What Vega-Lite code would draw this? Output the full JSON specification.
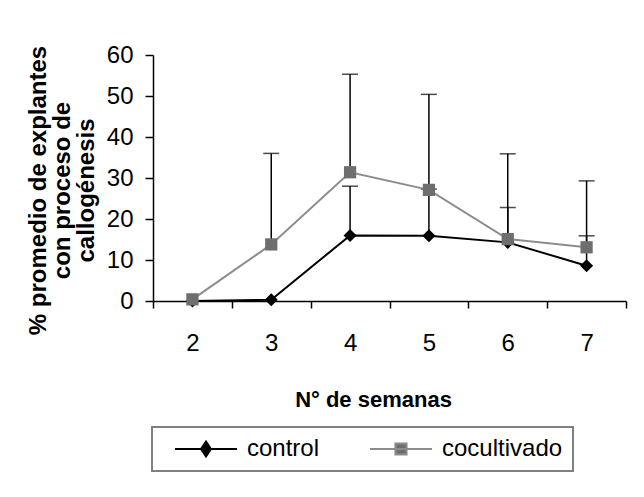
{
  "$schema": "https://vega.github.io/schema/vega-lite/v6.json",
  "autosize": {"type": "none"},
  "padding": {"left": 153, "top": 55, "right": 18, "bottom": 197},
  "width": 473,
  "height": 246,
  "background": "white",
  "config": {
    "view": {"stroke": null},
    "font": "Liberation Sans",
    "axisX": {
      "labelAngle": 0, "labelFontSize": 24, "labelColor": "black", "labelPadding": 23,
      "tickSize": 7, "tickBand": "extent", "domainColor": "black", "domainWidth": 1.5,
      "tickColor": "black", "tickWidth": 1.5, "grid": false,
      "titleFontSize": 22, "titleFontWeight": "bold", "titleColor": "black",
      "titleX": 220, "titleY": 105, "titleAlign": "center", "titleBaseline": "alphabetic"
    },
    "axisY": {
      "values": [0, 10, 20, 30, 40, 50, 60], "grid": false,
      "domainColor": "black", "domainWidth": 1.5, "tickColor": "black", "tickWidth": 1.5,
      "tickSize": 8, "labelFontSize": 24, "labelColor": "black", "labelPadding": 12,
      "titleFontSize": 24, "titleFontWeight": "bold", "titleColor": "black",
      "titleAngle": -90, "titleX": -108, "titleY": 135, "titleAlign": "center",
      "titleBaseline": "alphabetic", "titleLineHeight": 24
    }
  },
  "data": {
    "values": [
      {"week": "2", "series": "control", "mean": 0},
      {"week": "3", "series": "control", "mean": 0.3},
      {"week": "4", "series": "control", "mean": 16, "upper": 28},
      {"week": "5", "series": "control", "mean": 15.9, "upper": 27.3},
      {"week": "6", "series": "control", "mean": 14.3, "upper": 22.8},
      {"week": "7", "series": "control", "mean": 8.6, "upper": 15.9},
      {"week": "2", "series": "cocultivado", "mean": 0.4},
      {"week": "3", "series": "cocultivado", "mean": 13.8, "upper": 36},
      {"week": "4", "series": "cocultivado", "mean": 31.4, "upper": 55.3},
      {"week": "5", "series": "cocultivado", "mean": 27.1, "upper": 50.4},
      {"week": "6", "series": "cocultivado", "mean": 15.1, "upper": 35.9},
      {"week": "7", "series": "cocultivado", "mean": 13.1, "upper": 29.3}
    ]
  },
  "encoding": {
    "x": {
      "field": "week", "type": "ordinal", "bandPosition": 0.5,
      "title": "N° de semanas",
      "scale": {"type": "band", "paddingInner": 0, "paddingOuter": 0, "domain": ["2", "3", "4", "5", "6", "7"]}
    },
    "y": {"field": "mean", "type": "quantitative", "scale": {"domain": [0, 60], "nice": false},
          "title": ["% promedio de explantes", "con proceso de", "callogénesis"]}
  },
  "layer": [
    {
      "mark": {"type": "point", "filled": true, "opacity": 0, "strokeWidth": 2},
      "encoding": {
        "shape": {"field": "series", "type": "nominal", "title": null,
                  "scale": {"domain": ["control", "cocultivado"],
                            "range": ["M-1,0H1M0,-0.24L0.16,0L0,0.24L-0.16,0Z", "M-1,0H1M-0.18,-0.18H0.18V0.18H-0.18Z"]}},
        "stroke": {"field": "series", "type": "nominal", "title": null,
                   "scale": {"domain": ["control", "cocultivado"], "range": ["#000000", "#8c8c8c"]}},
        "color": {"field": "series", "type": "nominal", "title": null,
                  "scale": {"domain": ["control", "cocultivado"], "range": ["#000000", "#6e6e6e"]},
                  "legend": {
                    "orient": "none", "legendX": -1, "legendY": 372, "direction": "horizontal",
                    "title": null, "padding": 10, "strokeColor": "#808080",
                    "fillColor": "white", "labelFontSize": 24, "labelColor": "black",
                    "symbolSize": 3844, "symbolStrokeWidth": 2, "symbolOffset": 12, "symbolOpacity": 1,
                    "labelOffset": 9, "columnPadding": 37, "clipHeight": 24,
                    "labelExpr": "datum.label == 'cocultivado' ? datum.label + '\u00a0\u00a0' : datum.label",
                    "encoding": {"legend": {"strokeWidth": {"value": 2}}}
                  }}
      }
    },
    {
      "transform": [{"filter": "isValid(datum.upper)"}],
      "mark": {"type": "rule", "color": "black", "strokeWidth": 1.5},
      "encoding": {
        "y2": {"field": "upper"}
      }
    },
    {
      "transform": [{"filter": "isValid(datum.upper)"}],
      "mark": {"type": "tick", "color": "black", "thickness": 1.5, "size": 16},
      "encoding": {
        "y": {"field": "upper", "type": "quantitative", "scale": {"domain": [0, 60], "nice": false},
              "title": ["% promedio de explantes", "con proceso de", "callogénesis"]}
      }
    },
    {
      "transform": [{"filter": "datum.series == 'control'"}],
      "mark": {"type": "line", "strokeWidth": 2, "color": "#000000"},
      "encoding": {}
    },
    {
      "transform": [{"filter": "datum.series == 'control'"}],
      "mark": {"type": "point", "filled": true, "opacity": 1, "size": 170, "shape": "diamond", "color": "#000000"},
      "encoding": {}
    },
    {
      "transform": [{"filter": "datum.series == 'cocultivado'"}],
      "mark": {"type": "line", "strokeWidth": 2, "color": "#8c8c8c"},
      "encoding": {}
    },
    {
      "transform": [{"filter": "datum.series == 'cocultivado'"}],
      "mark": {"type": "point", "filled": true, "opacity": 1, "size": 150, "shape": "square", "color": "#6e6e6e"},
      "encoding": {}
    }
  ]
}
